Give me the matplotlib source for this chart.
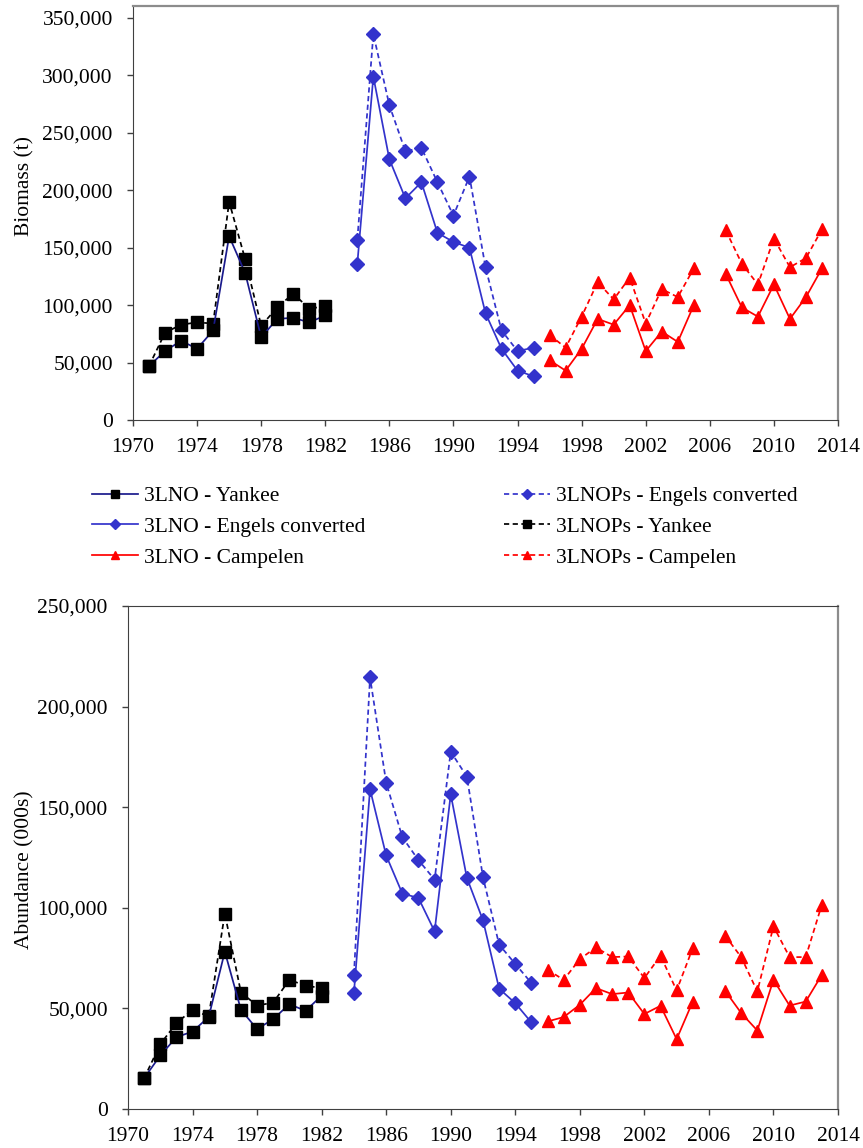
import numpy as np
import matplotlib
matplotlib.use("Agg")
import matplotlib.pyplot as plt
from matplotlib.ticker import FuncFormatter
from matplotlib.lines import Line2D

plt.rcParams['font.family'] = ['Liberation Serif', 'DejaVu Serif']

nan = np.nan
years_yankee = list(range(1971, 1983))
years_engels = list(range(1984, 1996))
years_campelen = list(range(1996, 2014))  # 2006 has no survey (gap)

# Biomass (thousand t)
bio_3lno_yankee = [47, 60, 69, 62, 78, 160, 128, 72, 88, 89, 85, 91]
bio_3lnops_yankee = [47, 76, 83, 85, 84, 190, 140, 82, 98, 110, 97, 99]
bio_3lno_engels = [136, 299, 227, 193, 207, 163, 155, 150, 93, 62, 43, 38]
bio_3lnops_engels = [157, 336, 274, 234, 237, 207, 178, 212, 133, 78, 60, 63]
bio_3lno_campelen = [52, 43, 62, 88, 83, 100, 60, 77, 68, 100, nan, 127, 98, 90, 118, 88, 107, 132]
bio_3lnops_campelen = [74, 63, 90, 120, 105, 124, 84, 114, 107, 132, nan, 165, 136, 118, 158, 133, 141, 166]

# Abundance (thousands of 000s)
ab_3lno_yankee = [15.3, 26.6, 35.7, 38.5, 45.7, 78.2, 49.3, 39.7, 44.7, 52.1, 48.8, 56.3]
ab_3lnops_yankee = [15.3, 32.2, 42.7, 49.3, 46.0, 97.1, 57.9, 51.4, 52.9, 64.2, 61.3, 60.1]
ab_3lno_engels = [57.6, 158.9, 126.0, 107.1, 104.9, 88.3, 156.4, 114.9, 93.8, 59.8, 52.6, 43.0]
ab_3lnops_engels = [66.7, 214.5, 162.2, 135.1, 123.7, 114.0, 177.6, 165.2, 115.2, 81.7, 72.1, 62.6]
ab_3lno_campelen = [43.5, 45.7, 51.8, 60.1, 57.1, 57.9, 47.2, 51.3, 34.7, 53.4, nan, 58.8, 47.7, 39.0, 64.2, 51.4, 53.4, 66.7]
ab_3lnops_campelen = [69.2, 64.2, 74.5, 80.3, 75.5, 75.8, 65.1, 76.2, 58.9, 80.0, nan, 86.2, 75.5, 58.4, 90.8, 75.5, 75.5, 101.6]

labels = {
    'lno_y': '3LNO - Yankee', 'lno_e': '3LNO - Engels converted', 'lno_c': '3LNO - Campelen',
    'lnops_e': '3LNOPs - Engels converted', 'lnops_y': '3LNOPs - Yankee', 'lnops_c': '3LNOPs - Campelen',
}

NAVY = '#1a1a8c'
BLUE = '#3333cc'
RED = '#ff0000'
DASH = (0, (3, 2))
LW = 1.25

styles = {
    'lno_y': dict(color=NAVY, ls='-', marker='s', mfc='black', mec='black', ms=8.5),
    'lnops_y': dict(color='black', ls=DASH, marker='s', mfc='black', mec='black', ms=8.5),
    'lno_e': dict(color=BLUE, ls='-', marker='D', mfc=BLUE, mec=BLUE, ms=6.8),
    'lnops_e': dict(color=BLUE, ls=DASH, marker='D', mfc=BLUE, mec=BLUE, ms=6.8),
    'lno_c': dict(color=RED, ls='-', marker='^', mfc=RED, mec=RED, ms=8.5),
    'lnops_c': dict(color=RED, ls=DASH, marker='^', mfc=RED, mec=RED, ms=8.5),
}

W, H = 863, 1148
fig = plt.figure(figsize=(W / 100, H / 100), dpi=100)

def fig_rect(left, top, right, bottom):
    return [left / W, 1 - bottom / H, (right - left) / W, (bottom - top) / H]

ax1 = fig.add_axes(fig_rect(133, 6, 838, 420))
ax2 = fig.add_axes(fig_rect(128, 606, 838, 1109))

fmt = FuncFormatter(lambda v, p: f"{int(round(v)):,}")

def draw(ax, series):
    for key, yrs, vals in series:
        st = styles[key]
        ax.plot(yrs, np.array(vals, dtype=float) * 1000, color=st['color'], ls=st['ls'], lw=LW,
                marker=st['marker'], mfc=st['mfc'], mec=st['mec'], ms=st['ms'], zorder=3)

draw(ax1, [
    ('lnops_y', years_yankee, bio_3lnops_yankee),
    ('lno_y', years_yankee, bio_3lno_yankee),
    ('lnops_e', years_engels, bio_3lnops_engels),
    ('lno_e', years_engels, bio_3lno_engels),
    ('lnops_c', years_campelen, bio_3lnops_campelen),
    ('lno_c', years_campelen, bio_3lno_campelen),
])
draw(ax2, [
    ('lnops_y', years_yankee, ab_3lnops_yankee),
    ('lno_y', years_yankee, ab_3lno_yankee),
    ('lnops_e', years_engels, ab_3lnops_engels),
    ('lno_e', years_engels, ab_3lno_engels),
    ('lnops_c', years_campelen, ab_3lnops_campelen),
    ('lno_c', years_campelen, ab_3lno_campelen),
])

for ax, ymax, top_tick, ylabel, lab_y, lab_x in [
    (ax1, 350000 * 414 / 402, 350000, 'Biomass (t)', 0.565, -0.14),
    (ax2, 250000, 250000, 'Abundance (000s)', 0.475, -0.132),
]:
    ax.set_xlim(1970, 2014)
    ax.set_ylim(0, ymax)
    ax.set_xticks(range(1970, 2015, 4))
    ax.set_yticks(range(0, top_tick + 1, 50000))
    ax.yaxis.set_major_formatter(fmt)
    ax.tick_params(axis='both', direction='out', length=4, width=1, labelsize=15.5,
                   colors='#404040', labelcolor='black')
    ax.tick_params(axis='y', pad=10.5)
    ax.tick_params(axis='x', pad=9)
    ax.spines['left'].set_color('#404040')
    ax.spines['bottom'].set_color('#404040')
    ax.spines['right'].set_color('#8c8c8c')
    ax.spines['right'].set_linewidth(1.6)
    ax.set_ylabel(ylabel, fontsize=15.5)
    ax.yaxis.set_label_coords(lab_x, lab_y)

ax1.spines['top'].set_color('#8c8c8c')
ax1.spines['top'].set_linewidth(1.6)
ax2.spines['top'].set_color('#404040')

def handle(key):
    st = styles[key]
    return Line2D([], [], color=st['color'], ls=st['ls'], lw=LW, marker=st['marker'],
                  mfc=st['mfc'], mec=st['mec'], ms=st['ms'] * 0.75)

leg_kw = dict(frameon=False, fontsize=15.5, handlelength=2.15, handletextpad=0.25,
              labelspacing=0.5, borderpad=0, borderaxespad=0, loc='upper left')
col1 = ['lno_y', 'lno_e', 'lno_c']
col2 = ['lnops_e', 'lnops_y', 'lnops_c']
fig.legend([handle(k) for k in col1], [labels[k] for k in col1],
           bbox_to_anchor=(92 / W, 1 - 486 / H), **leg_kw)
fig.legend([handle(k) for k in col2], [labels[k] for k in col2],
           bbox_to_anchor=(504 / W, 1 - 486 / H), **leg_kw)

fig.savefig('out.png', dpi=100)
